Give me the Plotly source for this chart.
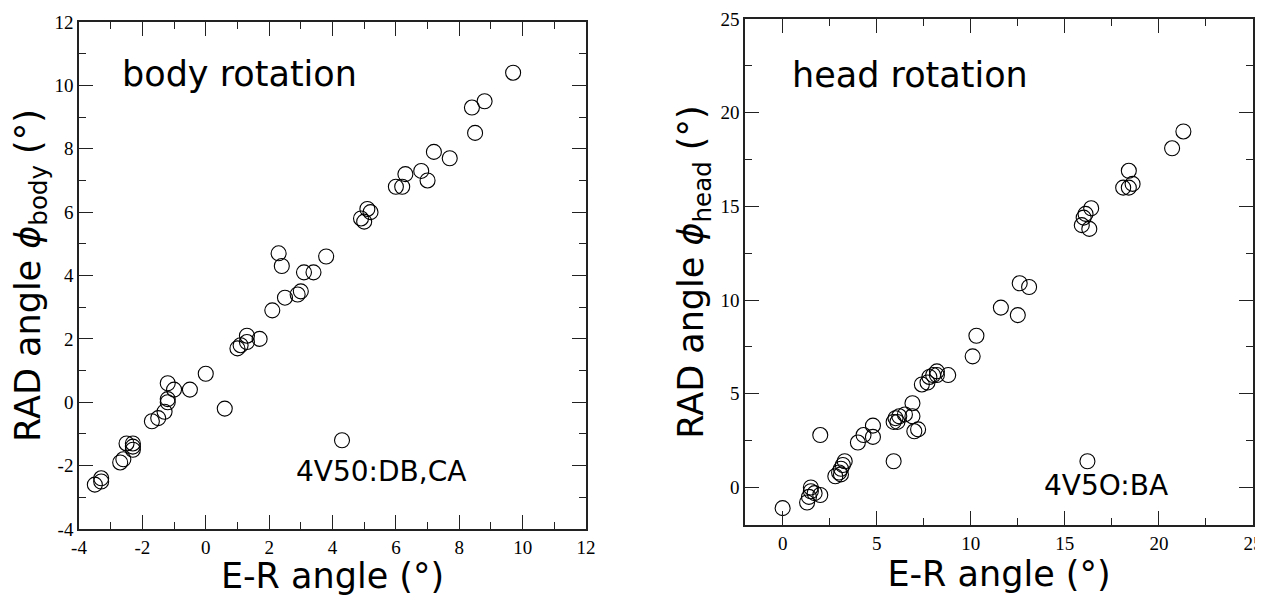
import plotly.graph_objects as go

# ---- data: body rotation (left panel) ----
body_er = [9.7, 8.8, 8.4, 8.5, 7.2, 7.7, 6.8, 7.0, 6.3, 6.0, 6.2, 5.1, 5.2, 4.9, 5.0,
           3.8, 2.3, 2.4, 3.1, 3.4, 2.5, 2.9, 3.0, 2.1, 1.7, 1.3, 1.3, 1.0, 1.1, 0.0,
           0.6, -0.5, -1.2, -1.0, -1.2, -1.2, -1.3, -1.5, -1.7, 4.3, -2.5, -2.3, -2.3,
           -2.3, -2.6, -2.7, -3.3, -3.3, -3.5]
body_rad = [10.4, 9.5, 9.3, 8.5, 7.9, 7.7, 7.3, 7.0, 7.2, 6.8, 6.8, 6.1, 6.0, 5.8, 5.7,
            4.6, 4.7, 4.3, 4.1, 4.1, 3.3, 3.4, 3.5, 2.9, 2.0, 2.1, 1.9, 1.7, 1.8, 0.9,
            -0.2, 0.4, 0.6, 0.4, 0.1, 0.0, -0.3, -0.5, -0.6, -1.2, -1.3, -1.3, -1.4,
            -1.5, -1.8, -1.9, -2.4, -2.5, -2.6]

# ---- data: head rotation (right panel) ----
head_er = [21.3, 20.7, 18.4, 18.1, 18.4, 18.6,
           16.4, 16.1, 16.0, 15.9, 16.3,
           12.6, 13.1, 11.6, 12.5, 10.3, 10.1,
           8.8, 7.4, 7.7, 7.8, 8.0, 8.2, 8.2,
           6.9, 5.9, 6.0, 6.1, 6.2, 6.5, 6.9, 7.0, 7.2,
           5.9, 16.2,
           4.0, 4.3, 4.8, 4.8,
           2.0,
           3.3, 3.2, 3.1, 3.0, 3.1, 2.8,
           1.5, 1.5, 1.4, 1.3, 2.0, 1.7,
           0.0]
head_rad = [19.0, 18.1, 16.9, 16.0, 16.0, 16.2,
            14.9, 14.6, 14.4, 14.0, 13.8,
            10.9, 10.7, 9.6, 9.2, 8.1, 7.0,
            6.0, 5.5, 5.6, 5.9, 6.0, 6.0, 6.2,
            4.5, 3.5, 3.7, 3.5, 3.8, 3.9, 3.8, 3.0, 3.1,
            1.4, 1.4,
            2.4, 2.8, 2.7, 3.3,
            2.8,
            1.4, 1.2, 1.0, 0.8, 0.7, 0.6,
            0.0, -0.2, -0.5, -0.8, -0.4, -0.3,
            -1.1]

# ---- tick labels ----
left_ticks = [-4, -2, 0, 2, 4, 6, 8, 10, 12]
left_ticktext = ["-4", "-2", "0", "2", "4", "6", "8", "10", "12"]
right_ticks = [0, 5, 10, 15, 20, 25]
right_ticktext = ["0", "5", "10", "15", "20", "25"]

TICKFONT = dict(family="Liberation Serif", size=19, color="black")
TITLEFONT = dict(family="DejaVu Sans", size=35, color="black")
AXCOL = "#222222"

marker = dict(symbol="circle-open", size=15, color="black", line=dict(width=1.1, color="black"))

fig = go.Figure()
fig.add_trace(go.Scatter(x=body_er, y=body_rad, mode="markers", marker=marker,
                         xaxis="x", yaxis="y", showlegend=False))
fig.add_trace(go.Scatter(x=head_er, y=head_rad, mode="markers", marker=marker,
                         xaxis="x2", yaxis="y2", showlegend=False))


def axis(domain, rng, ticks, ticktext, minor_dtick, title, anchor, standoff):
    return dict(
        domain=domain, range=rng, anchor=anchor, automargin=False,
        tickmode="array", tickvals=ticks, ticktext=ticktext,
        ticks="inside", ticklen=14, tickwidth=1.2, tickcolor=AXCOL,
        minor=dict(ticks="inside", dtick=minor_dtick, tick0=0, ticklen=7,
                   tickwidth=1.2, tickcolor=AXCOL, showgrid=False),
        showline=True, linecolor=AXCOL, linewidth=1.5, mirror="allticks",
        showgrid=False, zeroline=False, tickfont=TICKFONT,
        title=dict(text=title, font=TITLEFONT, standoff=standoff),
    )


# the page body has an 8px margin, so the figure is 8px smaller and offset
OFF = 8
W, H = 1263 - OFF, 596 - OFF


def dom_x(a, b):
    return [(a - OFF) / W, (b - OFF) / W]


def dom_y(top, bottom):
    return [1 - (bottom - OFF) / H, 1 - (top - OFF) / H]


fig.update_layout(
    width=W, height=H,
    margin=dict(l=0, r=0, t=0, b=0),
    paper_bgcolor="white", plot_bgcolor="white",
    xaxis=axis(dom_x(79, 586), [-4, 12], left_ticks, left_ticktext, 1, "E-R angle (°)", "y", 4),
    yaxis=axis(dom_y(22, 529), [-4, 12], left_ticks, left_ticktext, 1,
               "RAD angle <i>ϕ</i><sub>body</sub> (°)", "x", 6),
    xaxis2=axis(dom_x(745, 1253), [-2, 25], right_ticks, right_ticktext, 2.5, "E-R angle (°)", "y2", 4),
    yaxis2=axis(dom_y(19, 525), [-2, 25], right_ticks, right_ticktext, 2.5,
                "RAD angle <i>ϕ</i><sub>head</sub> (°)", "x2", 6),
    annotations=[
        dict(text="body rotation", x=-2.7, y=10.35, xref="x", yref="y",
             xanchor="left", yanchor="middle", showarrow=False,
             font=dict(family="DejaVu Sans", size=35, color="black")),
        dict(text="4V50:DB,CA", x=2.8, y=-2.2, xref="x", yref="y",
             xanchor="left", yanchor="middle", showarrow=False,
             font=dict(family="DejaVu Sans", size=28, color="black")),
        dict(text="head rotation", x=0.4, y=22.0, xref="x2", yref="y2",
             xanchor="left", yanchor="middle", showarrow=False,
             font=dict(family="DejaVu Sans", size=35, color="black")),
        dict(text="4V5O:BA", x=13.8, y=0.1, xref="x2", yref="y2",
             xanchor="left", yanchor="middle", showarrow=False,
             font=dict(family="DejaVu Sans", size=28, color="black")),
    ],
)

fig.write_html("out.html")
